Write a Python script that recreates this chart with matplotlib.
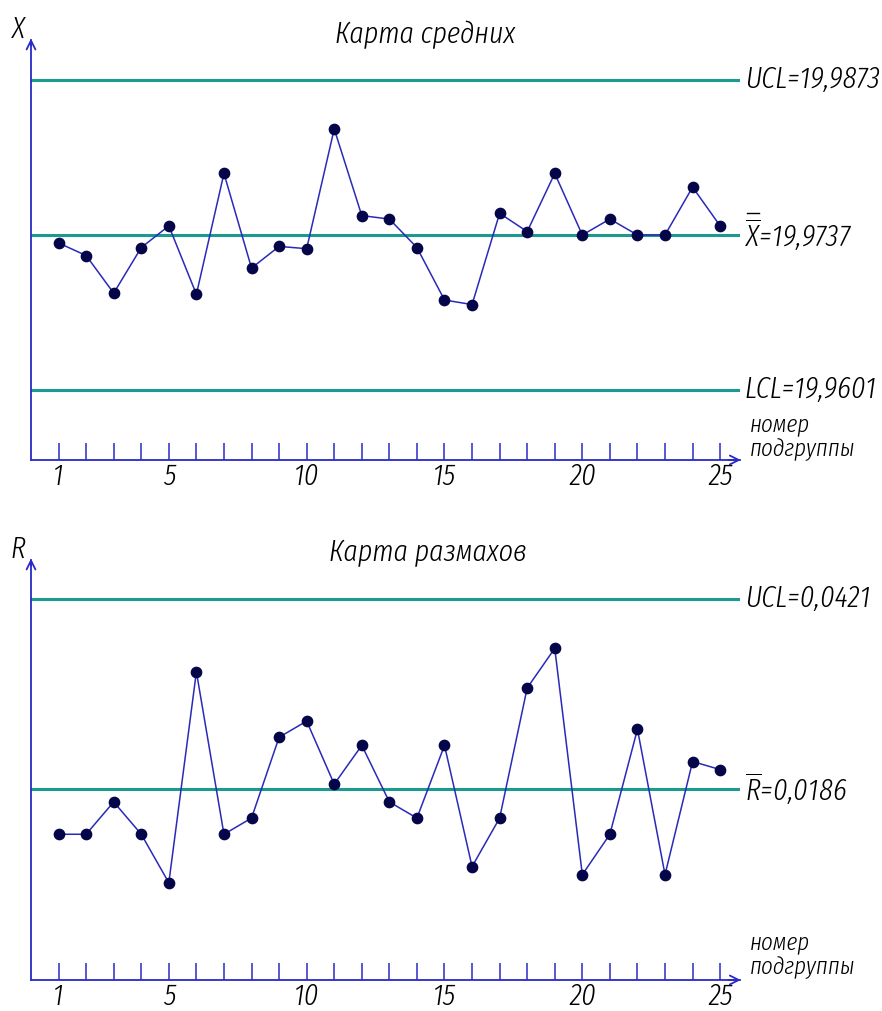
import matplotlib
matplotlib.use("Agg")
import matplotlib.pyplot as plt
from matplotlib.lines import Line2D

FONT = 'Fira Sans Extra Condensed'
plt.rcParams['font.family'] = [FONT, 'DejaVu Sans']
plt.rcParams['font.style'] = 'italic'
plt.rcParams['font.weight'] = 300
plt.rcParams['mathtext.fontset'] = 'custom'
plt.rcParams['mathtext.rm'] = FONT + ':italic'
plt.rcParams['mathtext.it'] = FONT + ':italic'

subgroups = list(range(1, 26))
tick_labels = [1, 5, 10, 15, 20, 25]

x_mean = [19.9730, 19.9719, 19.9686, 19.9726, 19.9745, 19.9685, 19.9791, 19.9708,
          19.9727, 19.9725, 19.9830, 19.9754, 19.9751, 19.9726, 19.9680, 19.9676,
          19.9756, 19.9740, 19.9791, 19.9737, 19.9751, 19.9737, 19.9737, 19.9779,
          19.9745]
x_ucl, x_cl, x_lcl = 19.9873, 19.9737, 19.9601

r_vals = [0.0130, 0.0130, 0.0170, 0.0130, 0.0070, 0.0331, 0.0130, 0.0150, 0.0250,
          0.0270, 0.0192, 0.0240, 0.0170, 0.0150, 0.0240, 0.0090, 0.0150, 0.0311,
          0.0360, 0.0080, 0.0130, 0.0260, 0.0080, 0.0220, 0.0210]
r_ucl, r_cl = 0.0421, 0.0186

W, H = 882, 1011
axis_col = '#2a2ac8'
ctrl_col = '#1a9a90'
line_col = '#2a2ab8'
dot_col = '#05054a'
txt_col = '#000000'

fig = plt.figure(figsize=(W / 100, H / 100), dpi=100)


def make_axes(bottom_px, top_px):
    ax = fig.add_axes([31 / W, 1 - bottom_px / H, (740 - 31) / W, (bottom_px - top_px) / H])
    ax.set_xlim(0, 25.72)
    for s in ['top', 'right']:
        ax.spines[s].set_visible(False)
    for s in ['left', 'bottom']:
        ax.spines[s].set_color(axis_col)
        ax.spines[s].set_linewidth(1.3)
    ax.set_yticks([])
    ax.set_xticks(subgroups)
    ax.set_xticklabels([str(i) if i in tick_labels else '' for i in subgroups])
    ax.tick_params(axis='x', direction='in', length=12, width=1.1, color=axis_col,
                   labelsize=22, labelcolor=txt_col, pad=2)
    # arrows
    ax.annotate('', xy=(0, 1.01), xytext=(0, 0.98), xycoords='axes fraction',
                arrowprops=dict(arrowstyle='->', color=axis_col, lw=1.3,
                                mutation_scale=16), annotation_clip=False)
    ax.annotate('', xy=(1.005, 0), xytext=(0.98, 0), xycoords='axes fraction',
                arrowprops=dict(arrowstyle='->', color=axis_col, lw=1.3,
                                mutation_scale=16), annotation_clip=False)
    return ax


# X-bar chart
ax1 = make_axes(460, 40)
ax1.set_ylim(19.95397, 19.9908)
for v in [x_ucl, x_cl, x_lcl]:
    ax1.axhline(v, color=ctrl_col, lw=2.2, zorder=1)
ax1.plot(subgroups, x_mean, color=line_col, lw=1.1, zorder=2)
ax1.scatter(subgroups, x_mean, s=55, color=dot_col, zorder=3)
ax1.text(25.9, x_ucl, 'UCL=19,9873', fontsize=22, va='center', ha='left', color=txt_col)
xbar = ax1.text(25.9, x_cl, r'$\overline{X}$=19,9737', fontsize=22, va='center',
                ha='left', color=txt_col)
ax1.text(25.9, x_lcl, 'LCL=19,9601', fontsize=22, va='center', ha='left', color=txt_col)
fig.text(750 / W, 1 - 437 / H, 'номер\nподгруппы', fontsize=18, va='center', ha='left',
         linespacing=1.05, color=txt_col)
fig.text(18 / W, 1 - 30 / H, 'X', fontsize=22, ha='center', va='center', color=txt_col)
fig.text(425 / W, 1 - 35 / H, 'Карта средних', fontsize=22, ha='center', va='center',
         color=txt_col)

# R chart
ax2 = make_axes(980, 560)
ax2.set_ylim(-0.00503, 0.04693)
for v in [r_ucl, r_cl]:
    ax2.axhline(v, color=ctrl_col, lw=2.2, zorder=1)
ax2.plot(subgroups, r_vals, color=line_col, lw=1.1, zorder=2)
ax2.scatter(subgroups, r_vals, s=55, color=dot_col, zorder=3)
ax2.text(25.9, r_ucl, 'UCL=0,0421', fontsize=22, va='center', ha='left', color=txt_col)
ax2.text(25.9, r_cl, r'$\overline{R}$=0,0186', fontsize=22, va='center', ha='left',
         color=txt_col)
fig.text(750 / W, 1 - 955 / H, 'номер\nподгруппы', fontsize=18, va='center', ha='left',
         linespacing=1.05, color=txt_col)
fig.text(18 / W, 1 - 550 / H, 'R', fontsize=22, ha='center', va='center', color=txt_col)
fig.text(428 / W, 1 - 553 / H, 'Карта размахов', fontsize=22, ha='center', va='center',
         color=txt_col)

# second bar over X (double overline)
fig.canvas.draw()
bb = xbar.get_window_extent()
x0 = bb.x0 + 2
y_top = bb.y1 + 4
fig.add_artist(Line2D([x0 / W, (x0 + 12) / W], [y_top / H, y_top / H],
                      color=txt_col, lw=1.0, transform=fig.transFigure))

fig.savefig('out.png', dpi=100)
